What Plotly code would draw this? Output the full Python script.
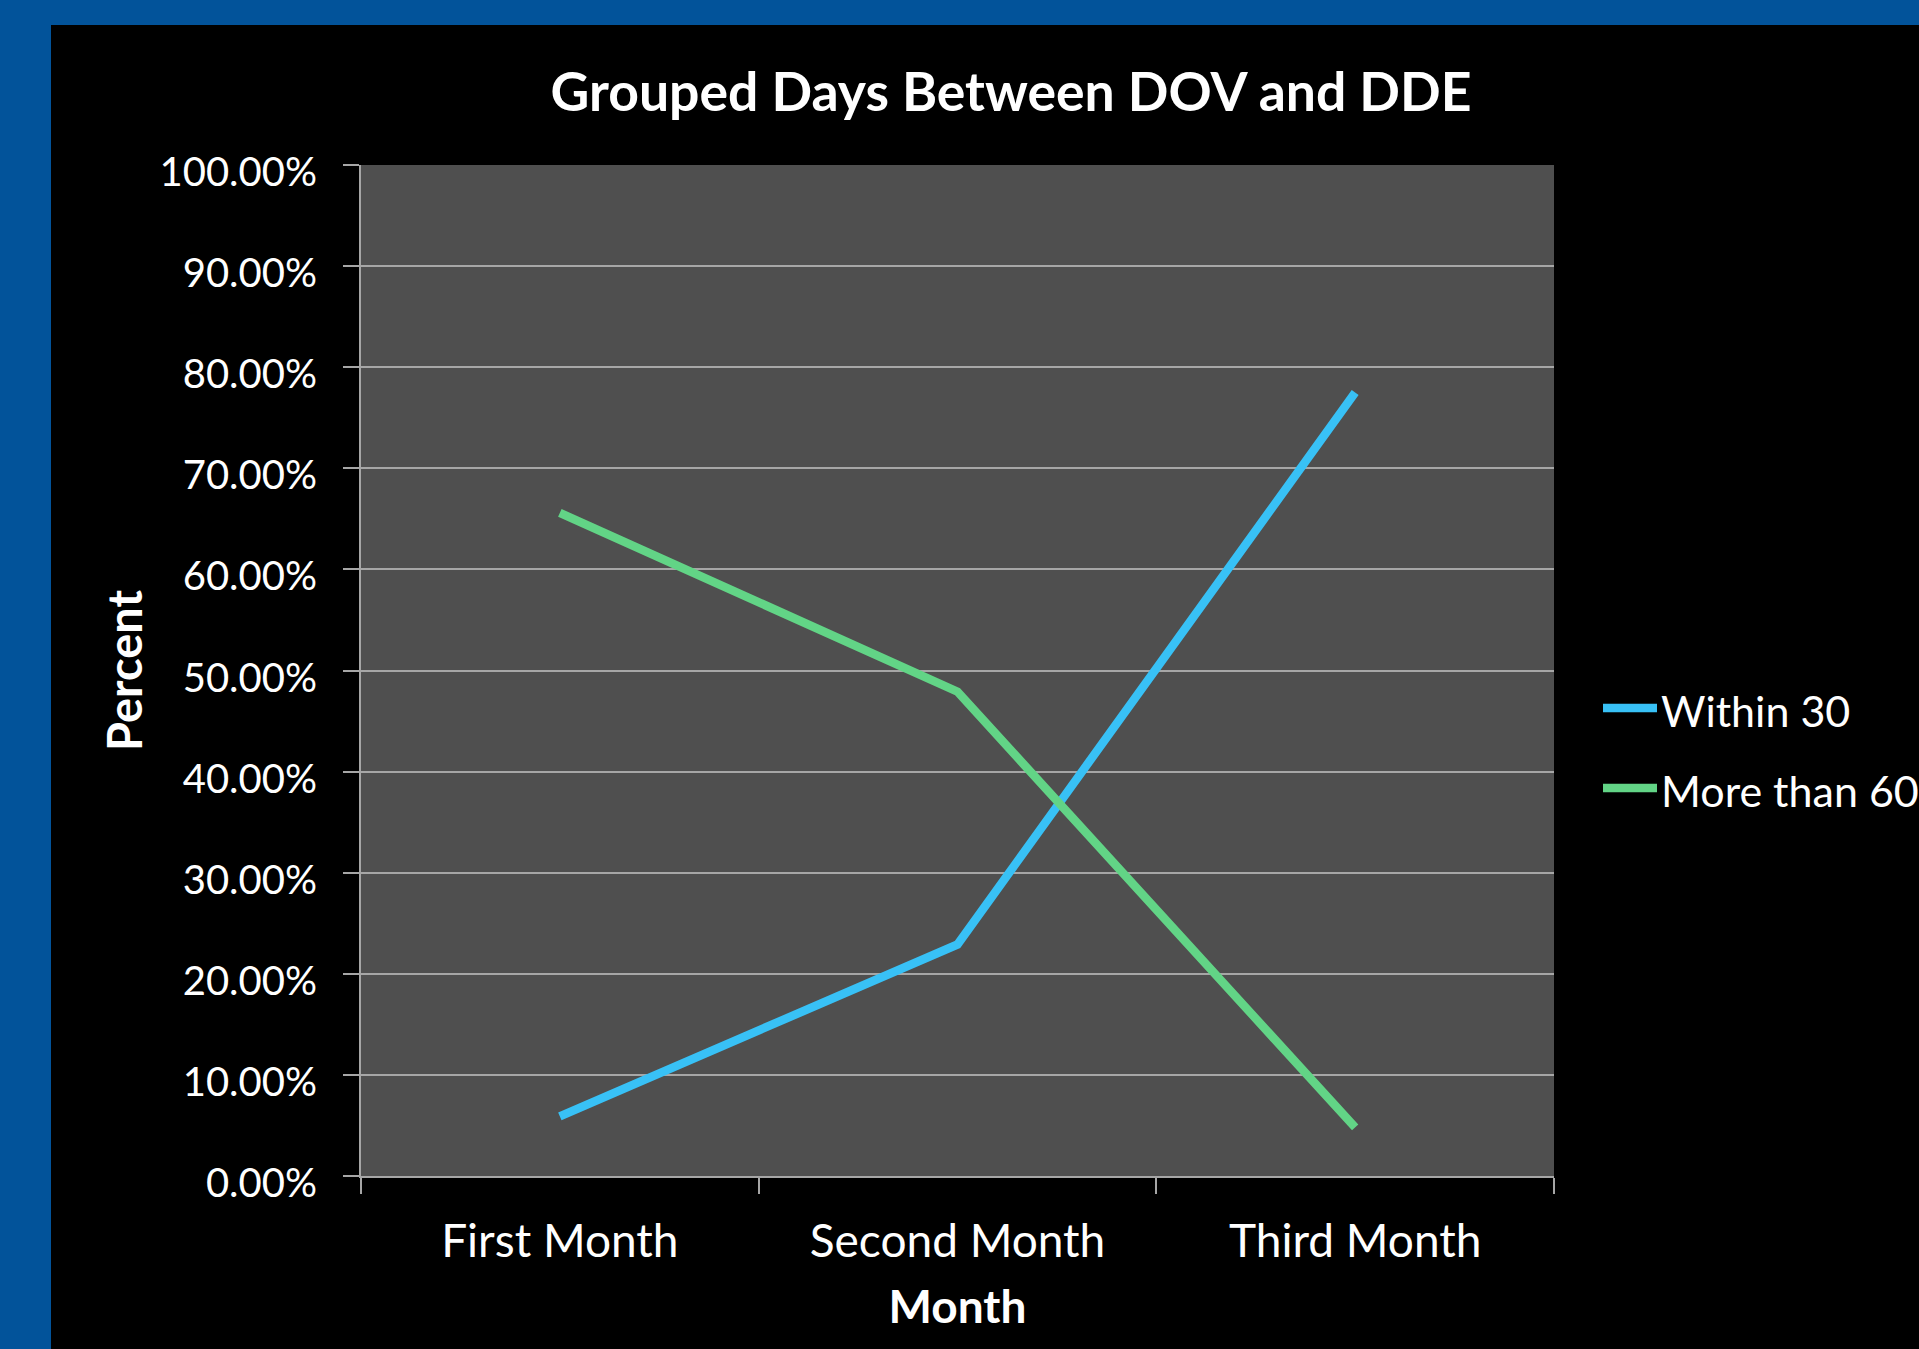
import plotly.graph_objects as go

categories = ["First Month", "Second Month", "Third Month"]
within_30 = [5.9, 22.9, 77.5]
more_than_60 = [65.6, 47.9, 4.8]
series_names = ["Within 30", "More than 60"]
series_colors = ["#38C1F6", "#62D486"]
y_ticks = [0, 10, 20, 30, 40, 50, 60, 70, 80, 90, 100]
y_tick_labels = ["0.00%", "10.00%", "20.00%", "30.00%", "40.00%", "50.00%",
                 "60.00%", "70.00%", "80.00%", "90.00%", "100.00%"]

W, H = 1919, 1349
L, R, T, B = 361, 1554, 165, 1176
pw, ph = R - L, B - T


def px_x(p):
    return (p - L) / pw


def px_y(p):
    return (B - p) / ph


FONT = "Lato"
BLUE_BG = "#02539A"
LW = 8.5

fig = go.Figure()
for name, vals, col in zip(series_names, [within_30, more_than_60], series_colors):
    fig.add_trace(go.Scatter(x=categories, y=vals, name=name, mode="lines",
                             line=dict(color=col, width=LW), showlegend=False))

fig.update_layout(
    width=W, height=H,
    margin=dict(l=L, r=W - R, t=T, b=H - B, pad=0),
    paper_bgcolor="black",
    plot_bgcolor="#4F4F4F",
    font=dict(family=FONT, color="white"),
    title=dict(text="<b>Grouped Days Between DOV and DDE</b>", font=dict(size=53.5, family=FONT, color="white"),
               x=1011 / W, xref="container", xanchor="center",
               y=1 - 92 / H, yref="container", yanchor="middle"),
    showlegend=False,
    xaxis=dict(
        type="category", range=[-0.5, 2.5],
        showgrid=False, showline=True, linecolor="#A6A6A6", linewidth=2,
        ticks="outside", tickson="boundaries", ticklen=16, tickcolor="#A6A6A6", tickwidth=1.5,
        tickfont=dict(size=46, family=FONT, color="white"),
        ticklabelstandoff=24,
        title=dict(text="<b>Month</b>", font=dict(size=46, family=FONT, color="white"), standoff=25),
    ),
    yaxis=dict(
        range=[0, 100], tickmode="array", tickvals=y_ticks, ticktext=y_tick_labels,
        showgrid=True, gridcolor="#A6A6A6", gridwidth=2,
        showline=True, linecolor="#A6A6A6", linewidth=2,
        ticks="outside", ticklen=16, tickcolor="#A6A6A6", tickwidth=2,
        tickfont=dict(size=40, family=FONT, color="white"),
        ticklabelstandoff=18, ticklabelshift=7,
        zeroline=False,
        title=dict(text="<b>Percent</b>", font=dict(size=47, family=FONT, color="white"), standoff=2),
    ),
)

# legend drawn at the right, as in the reference
legend_rows = [708, 788]
for name, col, ry in zip(series_names, series_colors, legend_rows):
    fig.add_shape(type="line", xref="paper", yref="paper",
                  x0=px_x(1603), x1=px_x(1657), y0=px_y(ry), y1=px_y(ry),
                  line=dict(color=col, width=LW))
    fig.add_annotation(text=name, xref="paper", yref="paper", x=px_x(1659), y=px_y(ry + 2),
                       xanchor="left", yanchor="middle", showarrow=False,
                       font=dict(size=43, family=FONT, color="white"))

# blue border (top band and left band) outside the plot area
fig.add_shape(type="rect", xref="paper", yref="paper", layer="above",
              x0=px_x(0), x1=px_x(W), y0=px_y(25), y1=px_y(0),
              fillcolor=BLUE_BG, line=dict(width=0))
fig.add_shape(type="rect", xref="paper", yref="paper", layer="above",
              x0=px_x(0), x1=px_x(51), y0=px_y(H), y1=px_y(0),
              fillcolor=BLUE_BG, line=dict(width=0))

fig.write_html("out.html", config={"displayModeBar": False},
               post_script="document.body.style.margin='0';document.body.style.overflow='hidden';")
